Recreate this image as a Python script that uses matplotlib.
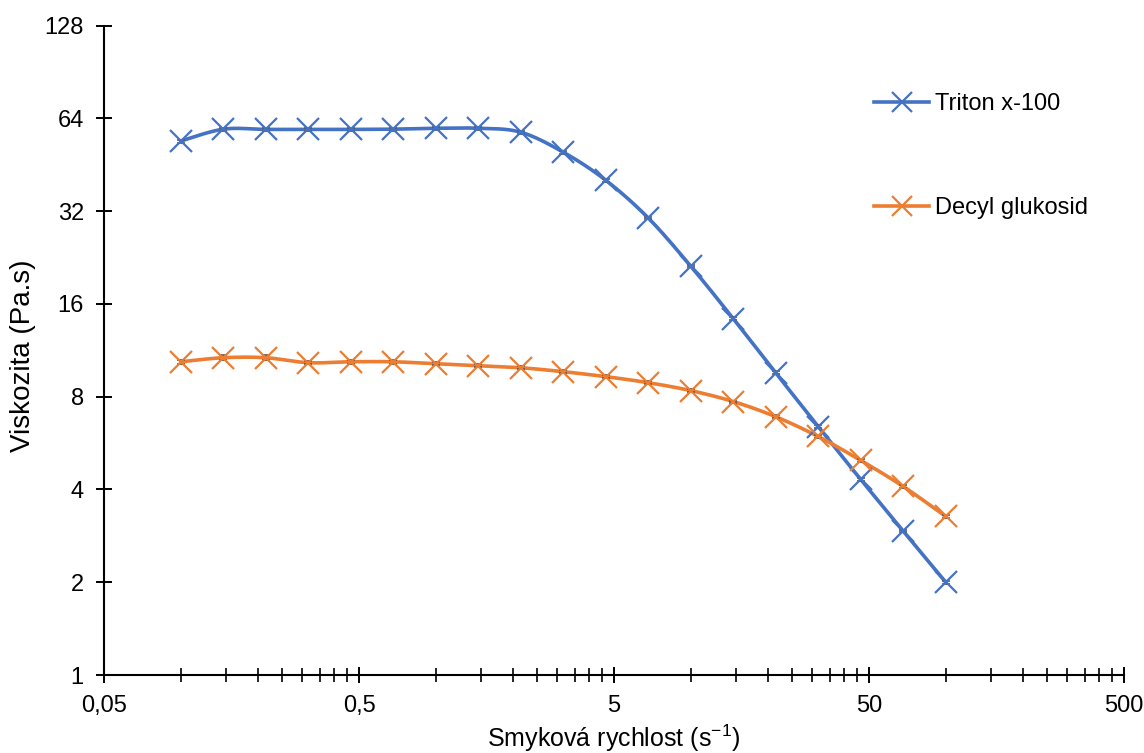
import numpy as np
import matplotlib
matplotlib.use("Agg")
import matplotlib.pyplot as plt
from matplotlib.ticker import FixedLocator, FixedFormatter, NullFormatter

plt.rcParams['font.family'] = ['Liberation Sans', 'DejaVu Sans']

shear_rate = [0.1, 0.147, 0.215, 0.316, 0.464, 0.681, 1.0, 1.47, 2.15, 3.16,
              4.64, 6.81, 10.0, 14.7, 21.5, 31.6, 46.4, 68.1, 100.0]
triton = [54.0, 59.0, 58.9, 58.9, 58.9, 59.0, 59.4, 59.4, 57.7, 49.7,
          40.3, 30.4, 21.2, 14.3, 9.57, 6.40, 4.31, 2.93, 2.0]
triton_err = [0.6, 0.7, 0.6, 0.6, 0.6, 0.6, 0.6, 0.6, 0.7, 0.6,
              0.4, 0.3, 0.2, 0.15, 0.1, 0.07, 0.05, 0.03, 0.02]
decyl = [10.38, 10.70, 10.70, 10.31, 10.38, 10.38, 10.23, 10.08, 9.93, 9.64,
         9.29, 8.88, 8.37, 7.71, 6.89, 5.94, 4.97, 4.09, 3.27]
decyl_err = [0.15, 0.2, 0.2, 0.1, 0.15, 0.15, 0.1, 0.1, 0.1, 0.1,
             0.08, 0.08, 0.07, 0.06, 0.06, 0.05, 0.05, 0.04, 0.04]

series_names = ["Triton x-100", "Decyl glukosid"]
colors = ["#4472C4", "#ED7D31"]

x_major = [0.05, 0.5, 5, 50, 500]
x_major_labels = ["0,05", "0,5", "5", "50", "500"]
y_major = [1, 2, 4, 8, 16, 32, 64, 128]
y_major_labels = ["1", "2", "4", "8", "16", "32", "64", "128"]


def smooth(xs, ys, n=30):
    lx = np.log10(np.asarray(xs, float))
    ly = np.log2(np.asarray(ys, float))
    P = np.column_stack([lx, ly])
    out = [P[0]]
    for i in range(len(P) - 1):
        p0 = P[i - 1] if i > 0 else P[i]
        p1 = P[i]
        p2 = P[i + 1]
        p3 = P[i + 2] if i + 2 < len(P) else P[i + 1]
        c1 = p1 + (p2 - p0) / 6.0
        c2 = p2 - (p3 - p1) / 6.0
        t = np.linspace(0, 1, n)[1:, None]
        seg = ((1 - t) ** 3) * p1 + 3 * ((1 - t) ** 2) * t * c1 + 3 * (1 - t) * t ** 2 * c2 + t ** 3 * p2
        out.extend(seg)
    out = np.array(out)
    return 10 ** out[:, 0], 2 ** out[:, 1]


fig = plt.figure(figsize=(11.44, 7.53), dpi=100)
ax = fig.add_axes([104 / 1144, 1 - 675 / 753, (1124 - 104) / 1144, (675 - 25.5) / 753])

handles = []
for ys, err, c, name in [(triton, triton_err, colors[0], series_names[0]),
                         (decyl, decyl_err, colors[1], series_names[1])]:
    sx, sy = smooth(shear_rate, ys)
    ax.plot(sx, sy, color=c, lw=2.6, solid_capstyle='round', zorder=3)
    ax.errorbar(shear_rate, ys, yerr=err, fmt='none', ecolor='#595959',
                elinewidth=1.0, capsize=3, capthick=1.2, zorder=4)
    ax.plot(shear_rate, ys, linestyle='none', marker='x', markersize=16,
            markeredgewidth=1.6, color=c, zorder=5)
    h, = ax.plot([], [], color=c, lw=2.6, marker='x', markersize=14,
                 markeredgewidth=1.6)
    handles.append(h)

ax.set_xscale('log')
ax.set_yscale('log', base=2)
ax.set_xlim(0.05, 500)
ax.set_ylim(1, 128)

ax.xaxis.set_major_locator(FixedLocator(x_major))
ax.xaxis.set_major_formatter(FixedFormatter(x_major_labels))
minors = [0.05 * k * 10 ** d for d in range(4) for k in range(2, 10)]
ax.xaxis.set_minor_locator(FixedLocator(minors))
ax.xaxis.set_minor_formatter(NullFormatter())
ax.yaxis.set_major_locator(FixedLocator(y_major))
ax.yaxis.set_major_formatter(FixedFormatter(y_major_labels))
ax.yaxis.set_minor_locator(FixedLocator([]))

for s in ['top', 'right']:
    ax.spines[s].set_visible(False)
for s in ['left', 'bottom']:
    ax.spines[s].set_linewidth(1.5)
    ax.spines[s].set_color('black')

ax.tick_params(axis='both', which='major', direction='inout', length=11, width=1.4,
               labelsize=17, colors='black')
ax.tick_params(axis='x', which='minor', direction='inout', length=10, width=1.2)
ax.tick_params(axis='x', which='major', pad=9)
ax.tick_params(axis='y', which='major', pad=9)

fig.text(614 / 1144, 1 - 747 / 753, "Smyková rychlost (s$^{\\mathregular{-1}}$)",
         fontsize=18, ha='center', va='baseline')
fig.text(23 / 1144, 1 - 356 / 753, "Viskozita (Pa.s)", fontsize=20,
         rotation=90, ha='center', va='center')

fig.legend(handles, series_names, loc='upper left', bbox_to_anchor=(865 / 1144, 1 - 84 / 753),
           frameon=False, fontsize=17, labelspacing=3.45, handlelength=2.3,
           handletextpad=0.25, borderaxespad=0)

fig.savefig("out.png", dpi=100)
